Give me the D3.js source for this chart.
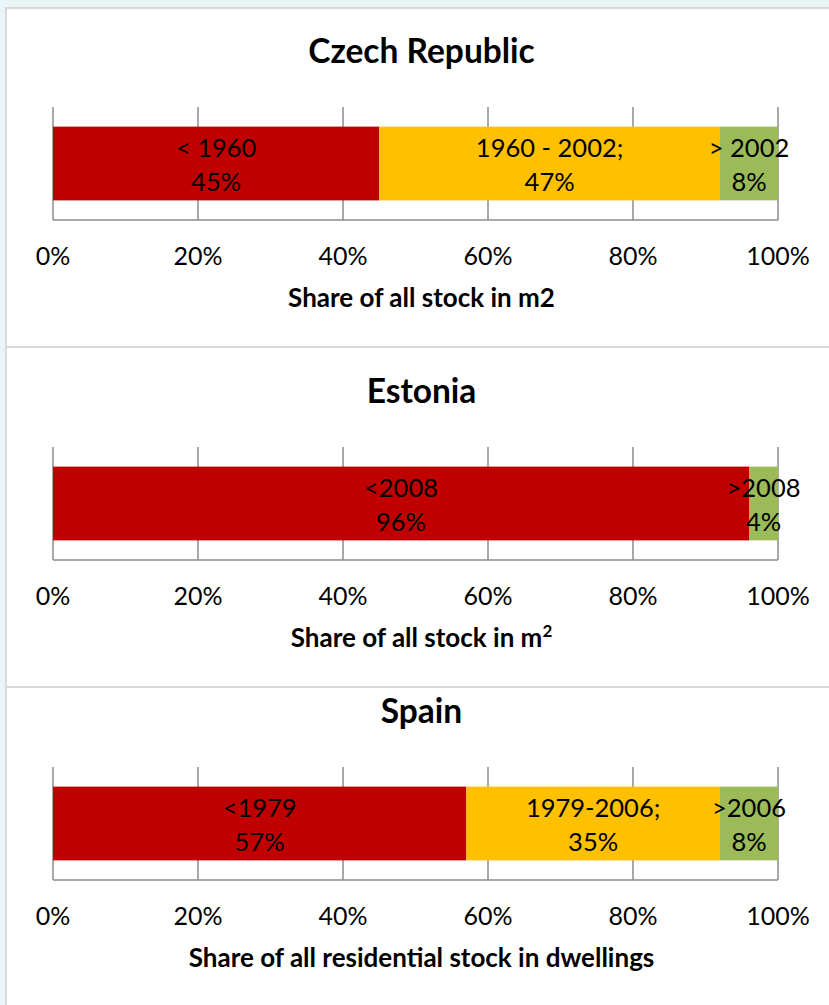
<!DOCTYPE html>
<html>
<head>
<meta charset="utf-8">
<script src="https://cdn.jsdelivr.net/npm/d3@7"></script>
<style>
  html, body { margin: 0; padding: 0; background: #eaf5f8; }
  svg { display: block; }
  text { font-family: Lato, "Open Sans", sans-serif; fill: #000; }
</style>
</head>
<body>
<svg id="chart" width="829" height="1005"></svg>
<script>
// Share of the building stock by construction period, per country
const countries = ["Czech Republic", "Estonia", "Spain"];

const czechPeriods = ["< 1960", "1960 - 2002;", "> 2002"];
const czechShares  = [45, 47, 8];

const estoniaPeriods = ["<2008", ">2008"];
const estoniaShares  = [96, 4];

const spainPeriods = ["<1979", "1979-2006;", ">2006"];
const spainShares  = [57, 35, 8];

const axisTitles = [
  ["Share of all stock in m2", null],
  ["Share of all stock in m", "2"],
  ["Share of all residential stock in dwellings", null]
];

const tickValues = [0, 20, 40, 60, 80, 100];
const tickLabels = ["0%", "20%", "40%", "60%", "80%", "100%"];

const periodColors = {
  old: "#C00000",
  mid: "#FFC000",
  recent: "#9BBB59"
};
const czechColors   = [periodColors.old, periodColors.mid, periodColors.recent];
const estoniaColors = [periodColors.old, periodColors.recent];
const spainColors   = [periodColors.old, periodColors.mid, periodColors.recent];

const panels = [
  { name: countries[0], periods: czechPeriods,   shares: czechShares,   colors: czechColors,   title: axisTitles[0] },
  { name: countries[1], periods: estoniaPeriods, shares: estoniaShares, colors: estoniaColors, title: axisTitles[1] },
  { name: countries[2], periods: spainPeriods,   shares: spainShares,   colors: spainColors,   title: axisTitles[2] }
];

// Layout
const panelTops = [8, 347, 687];
const plotTops  = [107, 447, 767];
const plotH = 113;
const left = 53, right = 778;

const svg = d3.select("#chart");

const x = d3.scaleLinear().domain([0, 100]).range([left, right]);

panels.forEach((p, i) => {
  // white panel with light border
  svg.append("rect")
    .attr("x", 6).attr("y", panelTops[i])
    .attr("width", 840).attr("height", (i < 2 ? panelTops[i + 1] - panelTops[i] : 400))
    .attr("fill", "#fff")
    .attr("stroke", "#d9d9d9")
    .attr("stroke-width", 2);
});

panels.forEach((p, i) => {
  const top = plotTops[i];
  const g = svg.append("g");

  const y = d3.scaleBand()
    .domain([p.name])
    .range([top, top + plotH])
    .paddingInner(0.21)
    .paddingOuter(0.21);

  // chart title
  g.append("text")
    .attr("x", (left + right) / 2 + 6)
    .attr("y", top - 44)
    .attr("text-anchor", "middle")
    .style("font-weight", "bold")
    .style("font-size", "33.5px")
    .text(p.name);

  // vertical gridlines
  g.selectAll("line.grid")
    .data(tickValues)
    .join("line")
    .attr("class", "grid")
    .attr("x1", d => x(d)).attr("x2", d => x(d))
    .attr("y1", top).attr("y2", top + plotH)
    .attr("stroke", "#8c8c8c")
    .attr("stroke-width", 1.5);

  // baseline
  g.append("line")
    .attr("x1", x(0)).attr("x2", x(100))
    .attr("y1", top + plotH).attr("y2", top + plotH)
    .attr("stroke", "#8c8c8c")
    .attr("stroke-width", 1.5);

  // stacked segments
  const starts = d3.cumsum([0, ...p.shares]).slice(0, p.shares.length);
  const segs = p.shares.map((v, j) => ({ v, start: starts[j], label: p.periods[j], color: p.colors[j] }));

  g.selectAll("rect.seg")
    .data(segs)
    .join("rect")
    .attr("class", "seg")
    .attr("x", d => x(d.start))
    .attr("width", d => x(d.start + d.v) - x(d.start))
    .attr("y", y(p.name))
    .attr("height", y.bandwidth())
    .attr("fill", d => d.color);

  const mid = y(p.name) + y.bandwidth() / 2;
  const lbl = g.selectAll("g.lbl")
    .data(segs)
    .join("g")
    .attr("class", "lbl")
    .attr("transform", d => `translate(${x(d.start + d.v / 2)},${mid})`);
  lbl.append("text")
    .attr("y", -7)
    .attr("text-anchor", "middle")
    .style("font-size", "25.5px")
    .text(d => d.label);
  lbl.append("text")
    .attr("y", 27)
    .attr("text-anchor", "middle")
    .style("font-size", "25.5px")
    .text(d => d.v + "%");

  // tick labels
  g.selectAll("text.tick")
    .data(tickValues)
    .join("text")
    .attr("class", "tick")
    .attr("x", d => x(d))
    .attr("y", top + plotH + 45)
    .attr("text-anchor", "middle")
    .style("font-size", "25px")
    .text((d, j) => tickLabels[j]);

  // axis title
  const t = g.append("text")
    .attr("x", (left + right) / 2 + 6)
    .attr("y", top + 200)
    .attr("text-anchor", "middle")
    .style("font-weight", "bold")
    .style("font-size", "26px");
  t.append("tspan").text(p.title[0]);
  if (p.title[1]) {
    t.append("tspan")
      .attr("dy", -10)
      .style("font-size", "17px")
      .text(p.title[1]);
  }
});
</script>
</body>
</html>
